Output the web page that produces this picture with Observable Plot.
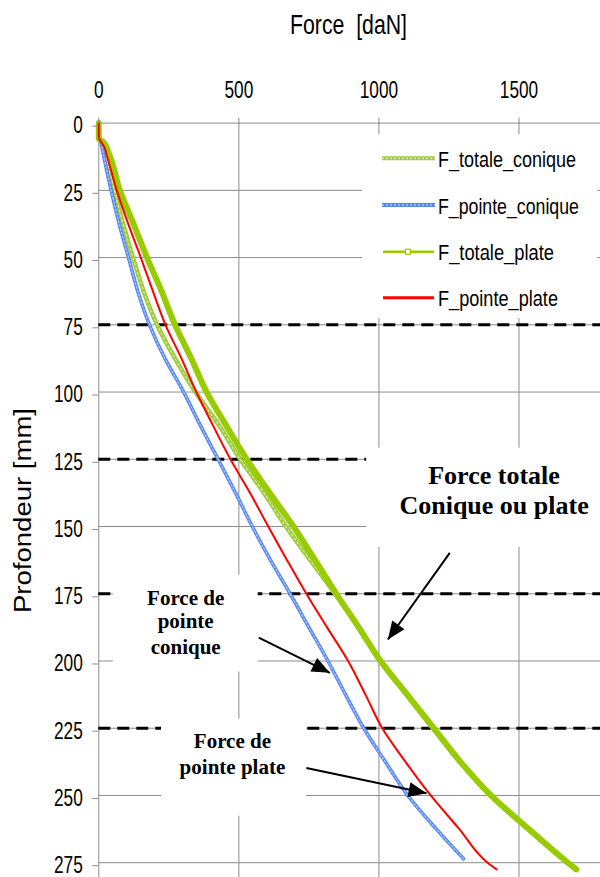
<!DOCTYPE html>
<html><head><meta charset="utf-8">
<script src="https://cdn.jsdelivr.net/npm/d3@7"></script>
<script src="https://cdn.jsdelivr.net/npm/@observablehq/plot@0.6"></script>
<style>html,body{margin:0;padding:0;background:#fff;} svg{display:block;}</style>
</head><body><div id="chart"></div>
<script>
// ---- data ----
const xTicks = [0, 500, 1000, 1500];
const yTicks = [0, 25, 50, 75, 100, 125, 150, 175, 200, 225, 250, 275];
const dashedDepths = [75, 125, 175, 225];

const depthTotaleConique = [0, 5, 7, 12.5, 25, 37.5, 50, 62.5, 75, 87.5, 100, 112.5, 125, 137.5, 150, 162.5, 175, 187.5, 200, 212.5, 225, 237.5, 250, 262.5, 275, 277.5];
const fTotaleConique     = [0, 0, 10, 25, 56, 87, 122, 160, 208, 272, 345, 430, 505, 590, 668, 755, 843, 926, 1003, 1098, 1193, 1289, 1398, 1532, 1672, 1702];

const depthPointeConique = [0, 4.5, 6.5, 12.5, 25, 37.5, 50, 62.5, 75, 87.5, 100, 112.5, 125, 137.5, 150, 162.5, 175, 187.5, 200, 212.5, 225, 237.5, 250, 262.5, 273.5];
const fPointeConique     = [0, 0, 6, 18, 44, 73, 106, 139, 181, 236, 303, 363, 426, 488, 548, 613, 683, 750, 818, 881, 946, 1023, 1103, 1205, 1302];

const depthTotalePlate = [0, 5.8, 7, 12.5, 25, 37.5, 50, 62.5, 75, 87.5, 100, 112.5, 125, 137.5, 150, 162.5, 175, 187.5, 200, 212.5, 225, 237.5, 250, 262.5, 275, 277.5];
const fTotalePlate     = [0, 0, 16, 40, 75, 124, 172, 224, 272, 330, 385, 455, 528, 610, 695, 772, 848, 928, 1006, 1101, 1196, 1291, 1400, 1535, 1675, 1705];

const depthPointePlate = [0, 5, 9, 12.5, 25, 37.5, 50, 62.5, 75, 87.5, 100, 112.5, 125, 137.5, 150, 162.5, 175, 187.5, 200, 212.5, 225, 237.5, 250, 262.5, 275, 277.5];
const fPointePlate     = [0, 0, 20, 30, 64, 105, 150, 193, 238, 295, 348, 408, 470, 540, 605, 672, 741, 815, 890, 952, 1012, 1095, 1185, 1287, 1388, 1420];

const seriesNames = ["F_totale_conique", "F_pointe_conique", "F_totale_plate", "F_pointe_plate"];

// annotations (data coordinates: force, depth)
const annotBoxes = [
  {x1: 52, x2: 569, y1: 168.1, y2: 204.1},
  {x1: 224, x2: 742, y1: 221.6, y2: 257.7},
  {x1: 956, x2: 1791, y1: 120.9, y2: 157.7}
];
const annotBig = [
  {text: "Force totale", force: 1411, depth: 130.95},
  {text: "Conique ou plate", force: 1411, depth: 142.1}
];
const annotSmall = [
  {text: "Force de", force: 310, depth: 176.8},
  {text: "pointe", force: 310, depth: 185.4},
  {text: "conique", force: 310, depth: 195.0},
  {text: "Force de", force: 477, depth: 230.0},
  {text: "pointe plate", force: 477, depth: 239.6}
];
const arrows = [
  {f1: 1253, d1: 159.8, f2: 1032, d2: 192.0},
  {f1: 571, d1: 191.3, f2: 825, d2: 204.4},
  {f1: 741, d1: 239.8, f2: 1170, d2: 249.2}
];

// ---- build tidy rows ----
const rows = (name, depths, forces) => depths.map((d, i) => ({serie: name, depth: d, force: forces[i]}));
const totaleConique = rows(seriesNames[0], depthTotaleConique, fTotaleConique);
const pointeConique = rows(seriesNames[1], depthPointeConique, fPointeConique);
const totalePlate = rows(seriesNames[2], depthTotalePlate, fTotalePlate);
const pointePlate = rows(seriesNames[3], depthPointePlate, fPointePlate);

const gridColor = "#8c8c8c";
const lineOpts = {x: "force", y: "depth", curve: "monotone-y", strokeLinejoin: "round", strokeLinecap: "round"};

const chart = Plot.plot({
  width: 600, height: 877,
  marginTop: 122.6, marginLeft: 98.3, marginRight: 0, marginBottom: 0,
  style: {fontFamily: "'Liberation Sans', Arial, sans-serif", background: "white", color: "black", overflow: "visible"},
  x: {domain: [0, 1791]},
  y: {domain: [0, 280.5], reverse: true},
  marks: [
    Plot.ruleY(yTicks, {stroke: gridColor, strokeWidth: 1}),
    Plot.ruleX(xTicks, {stroke: gridColor, strokeWidth: 1}),
    Plot.ruleY(dashedDepths, {stroke: "black", strokeWidth: 3, strokeDasharray: "12,7"}),
    Plot.rect(annotBoxes, {x1: "x1", x2: "x2", y1: "y1", y2: "y2", fill: "white"}),
    Plot.line(totaleConique, {...lineOpts, stroke: "#9fcb3a", strokeWidth: 4.5}),
    Plot.line(totaleConique, {...lineOpts, stroke: "#d2e8a0", strokeWidth: 1.3, strokeDasharray: "2,3"}),
    Plot.line(pointeConique, {...lineOpts, stroke: "#5586ee", strokeWidth: 3.6}),
    Plot.line(pointeConique, {...lineOpts, stroke: "#b3c9fa", strokeWidth: 1.2, strokeDasharray: "2,2"}),
    Plot.line(totalePlate, {...lineOpts, stroke: "#99cc00", strokeWidth: 6}),
    Plot.line(pointePlate, {...lineOpts, stroke: "#ff0000", strokeWidth: 2}),
    Plot.text(annotBig, {x: "force", y: "depth", text: "text", fontSize: 26, fontWeight: "bold", fontFamily: "'Liberation Serif', 'Times New Roman', serif", fill: "black"}),
    Plot.text(annotSmall, {x: "force", y: "depth", text: "text", fontSize: 21, fontWeight: "bold", fontFamily: "'Liberation Serif', 'Times New Roman', serif", fill: "black"}),
    Plot.link(arrows, {x1: "f1", y1: "d1", x2: "f2", y2: "d2", stroke: "black", strokeWidth: 2, className: "annot-arrow"}),
    Plot.axisX({ticks: xTicks, anchor: "top", tickSize: 6, tickPadding: 19, fontSize: 23, stroke: gridColor, fill: "black", label: null, tickFormat: d => String(d)}),
    Plot.axisY({ticks: yTicks, anchor: "left", tickSize: 6, tickPadding: 10, fontSize: 23, stroke: gridColor, fill: "black", label: null, tickFormat: d => String(d), dy: 3})
  ]
});
document.getElementById("chart").appendChild(chart);

const svg = d3.select(chart);
// compress tick labels horizontally like the reference
svg.selectAll('g[aria-label$="tick label"] text').each(function() {
  const s = this.textContent;
  this.setAttribute("textLength", s.length * 9.6);
  this.setAttribute("lengthAdjust", "spacingAndGlyphs");
});

// filled arrow heads
const defs = svg.append("defs");
defs.append("marker").attr("id", "ahead").attr("viewBox", "-20 -9 22 18")
  .attr("refX", 0).attr("refY", 0).attr("markerWidth", 22).attr("markerHeight", 18)
  .attr("markerUnits", "userSpaceOnUse").attr("orient", "auto")
  .append("path").attr("d", "M0,0L-18,-7.5L-18,7.5Z").attr("fill", "black");
svg.selectAll(".annot-arrow path, .annot-arrow line").attr("marker-end", "url(#ahead)");

// axis titles
svg.append("text").attr("x", 348.5).attr("y", 34).attr("text-anchor", "middle")
  .attr("font-size", 28).attr("textLength", 117).attr("lengthAdjust", "spacingAndGlyphs")
  .style("white-space", "pre").attr("fill", "black").text("Force  [daN]");
svg.append("text").attr("transform", "translate(31,510.5) rotate(-90)").attr("text-anchor", "middle")
  .attr("font-size", 23.5).attr("textLength", 205).attr("lengthAdjust", "spacingAndGlyphs")
  .attr("fill", "black").text("Profondeur [mm]");

// legend
const legendWidths = [138, 141, 116, 120];
const legendY = [158.3, 205, 251.7, 297.7];
const lg = svg.append("g");
lg.append("rect").attr("x", 362).attr("y", 134).attr("width", 235).attr("height", 184).attr("fill", "white");
seriesNames.forEach((name, i) => {
  const y = legendY[i];
  if (i === 0) {
    lg.append("line").attr("x1", 382).attr("x2", 435).attr("y1", y).attr("y2", y).attr("stroke", "#a6cd3c").attr("stroke-width", 4);
    lg.append("line").attr("x1", 382).attr("x2", 435).attr("y1", y).attr("y2", y).attr("stroke", "#e4f1c0").attr("stroke-width", 1.3).attr("stroke-dasharray", "2,2");
  } else if (i === 1) {
    lg.append("line").attr("x1", 382).attr("x2", 435).attr("y1", y).attr("y2", y).attr("stroke", "#5586ee").attr("stroke-width", 4);
    lg.append("line").attr("x1", 382).attr("x2", 435).attr("y1", y).attr("y2", y).attr("stroke", "#b3c9fa").attr("stroke-width", 1.3).attr("stroke-dasharray", "2,2");
  } else if (i === 2) {
    lg.append("line").attr("x1", 383).attr("x2", 434).attr("y1", y).attr("y2", y).attr("stroke", "#99cc00").attr("stroke-width", 2.5);
    lg.append("rect").attr("x", 405.5).attr("y", y - 2.5).attr("width", 5).attr("height", 5).attr("fill", "white").attr("stroke", "#99cc00").attr("stroke-width", 1.2);
  } else {
    lg.append("line").attr("x1", 383).attr("x2", 434).attr("y1", y).attr("y2", y).attr("stroke", "#ff0000").attr("stroke-width", 3);
  }
  const t = lg.append("text").attr("x", 0).attr("y", 0).attr("font-size", 22).attr("fill", "black")
    .attr("text-anchor", "start").text(name);
  const natural = t.node().getComputedTextLength() || legendWidths[i];
  t.attr("transform", `translate(438,${y + 8.7}) scale(${legendWidths[i] / natural},1)`);
});
</script></body></html>
